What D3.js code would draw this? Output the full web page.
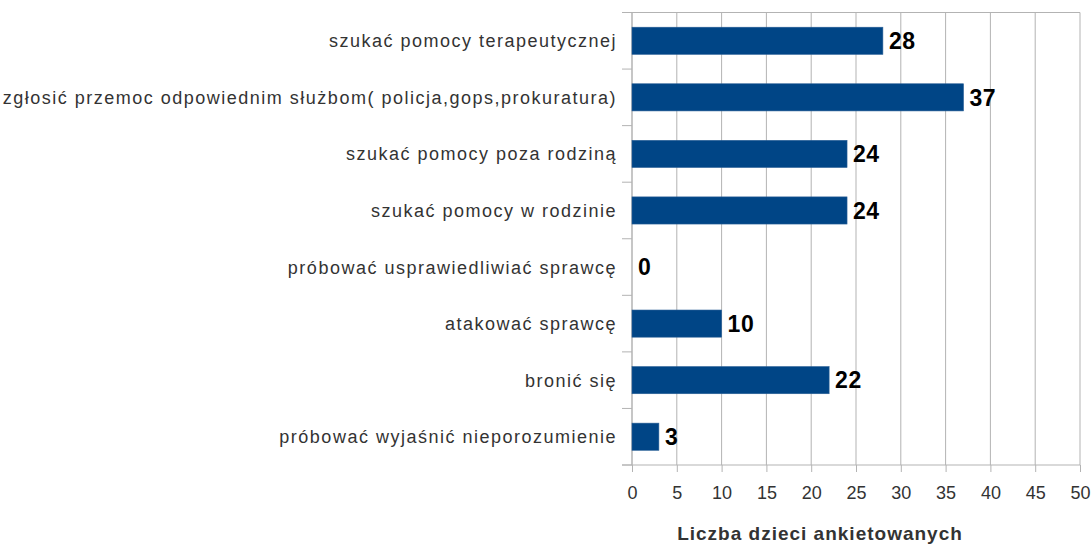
<!DOCTYPE html>
<html>
<head>
<meta charset="utf-8">
<script src="https://cdn.jsdelivr.net/npm/d3@7"></script>
<style>
  body { margin: 0; background: #fff; }
  text { font-family: "Liberation Sans", Arial, sans-serif; }
</style>
</head>
<body>
<script>
let w = 1091;
let h = 545;

let categories = [
  "szukać pomocy terapeutycznej",
  "zgłosić przemoc odpowiednim służbom( policja,gops,prokuratura)",
  "szukać pomocy poza rodziną",
  "szukać pomocy w rodzinie",
  "próbować usprawiedliwiać sprawcę",
  "atakować sprawcę",
  "bronić się",
  "próbować wyjaśnić nieporozumienie"
];
let values = [28, 37, 24, 24, 0, 10, 22, 3];
let xTicks = [0, 5, 10, 15, 20, 25, 30, 35, 40, 45, 50];
let xTitle = "Liczba dzieci ankietowanych";

let plotLeft = 632, plotRight = 1080, plotTop = 12.5, plotBottom = 465;

let xScale = d3.scaleLinear()
  .domain([0, 50])
  .range([plotLeft, plotRight]);

let yScale = d3.scaleBand()
  .domain(d3.range(categories.length))
  .range([plotTop, plotBottom])
  .paddingInner(0.52)
  .paddingOuter(0.26);

let svg = d3.select("body")
  .append("svg")
  .attr("width", w)
  .attr("height", h);

// vertical gridlines
svg.selectAll("line.grid")
  .data(xTicks)
  .enter()
  .append("line")
  .attr("class", "grid")
  .attr("x1", d => xScale(d))
  .attr("x2", d => xScale(d))
  .attr("y1", plotTop)
  .attr("y2", plotBottom)
  .attr("stroke", "#b3b3b3")
  .attr("stroke-width", 1);

// top border
svg.append("line")
  .attr("x1", plotLeft).attr("x2", plotRight)
  .attr("y1", plotTop).attr("y2", plotTop)
  .attr("stroke", "#b3b3b3");

// bottom axis
let xAxis = d3.axisBottom(xScale)
  .tickValues(xTicks)
  .tickSize(7)
  .tickPadding(6);

let gx = svg.append("g")
  .attr("transform", "translate(0," + plotBottom + ")")
  .call(xAxis);
gx.select(".domain").attr("stroke", "#b3b3b3").attr("d", "M" + (plotLeft - 10) + ",0H" + plotRight);
gx.selectAll(".tick line").attr("stroke", "#b3b3b3");
gx.selectAll(".tick text")
  .attr("font-size", "18px")
  .attr("fill", "#333")
  .attr("y", 34)
  .attr("dy", null);

// left axis, ticks between categories
let step = (plotBottom - plotTop) / categories.length;
svg.selectAll("line.ytick")
  .data(d3.range(categories.length + 1))
  .enter()
  .append("line")
  .attr("class", "ytick")
  .attr("x1", plotLeft - 10)
  .attr("x2", plotLeft)
  .attr("y1", i => plotTop + i * step)
  .attr("y2", i => plotTop + i * step)
  .attr("stroke", "#b3b3b3");

svg.append("line")
  .attr("x1", plotLeft).attr("x2", plotLeft)
  .attr("y1", plotTop).attr("y2", plotBottom)
  .attr("stroke", "#b3b3b3");

// category labels
svg.selectAll("text.cat")
  .data(categories)
  .enter()
  .append("text")
  .attr("class", "cat")
  .text(d => d)
  .attr("text-anchor", "end")
  .attr("x", plotLeft - 15)
  .attr("y", (d, i) => yScale(i) + yScale.bandwidth() / 2)
  .attr("dy", "0.36em")
  .attr("font-size", "18px")
  .style("letter-spacing", "1.5px")
  .attr("fill", "#333");

// bars
svg.selectAll("rect.bar")
  .data(values)
  .enter()
  .append("rect")
  .attr("class", "bar")
  .attr("x", xScale(0))
  .attr("y", (d, i) => yScale(i))
  .attr("width", d => xScale(d) - xScale(0))
  .attr("height", yScale.bandwidth())
  .attr("fill", "#004586")
  .attr("stroke", "#2a5f96")
  .attr("stroke-width", 0.6);

// value labels
svg.selectAll("text.val")
  .data(values)
  .enter()
  .append("text")
  .attr("class", "val")
  .text(d => d)
  .attr("x", d => xScale(d) + 6)
  .attr("y", (d, i) => yScale(i) + yScale.bandwidth() / 2)
  .attr("dy", "0.36em")
  .attr("font-size", "23px")
  .attr("font-weight", "bold")
  .style("letter-spacing", "0.5px")
  .attr("fill", "#000");

// axis title
svg.append("text")
  .text(xTitle)
  .attr("x", 820)
  .attr("y", 540)
  .attr("text-anchor", "middle")
  .attr("font-size", "19px")
  .attr("font-weight", "bold")
  .style("letter-spacing", "1px")
  .attr("fill", "#333");
</script>
</body>
</html>
